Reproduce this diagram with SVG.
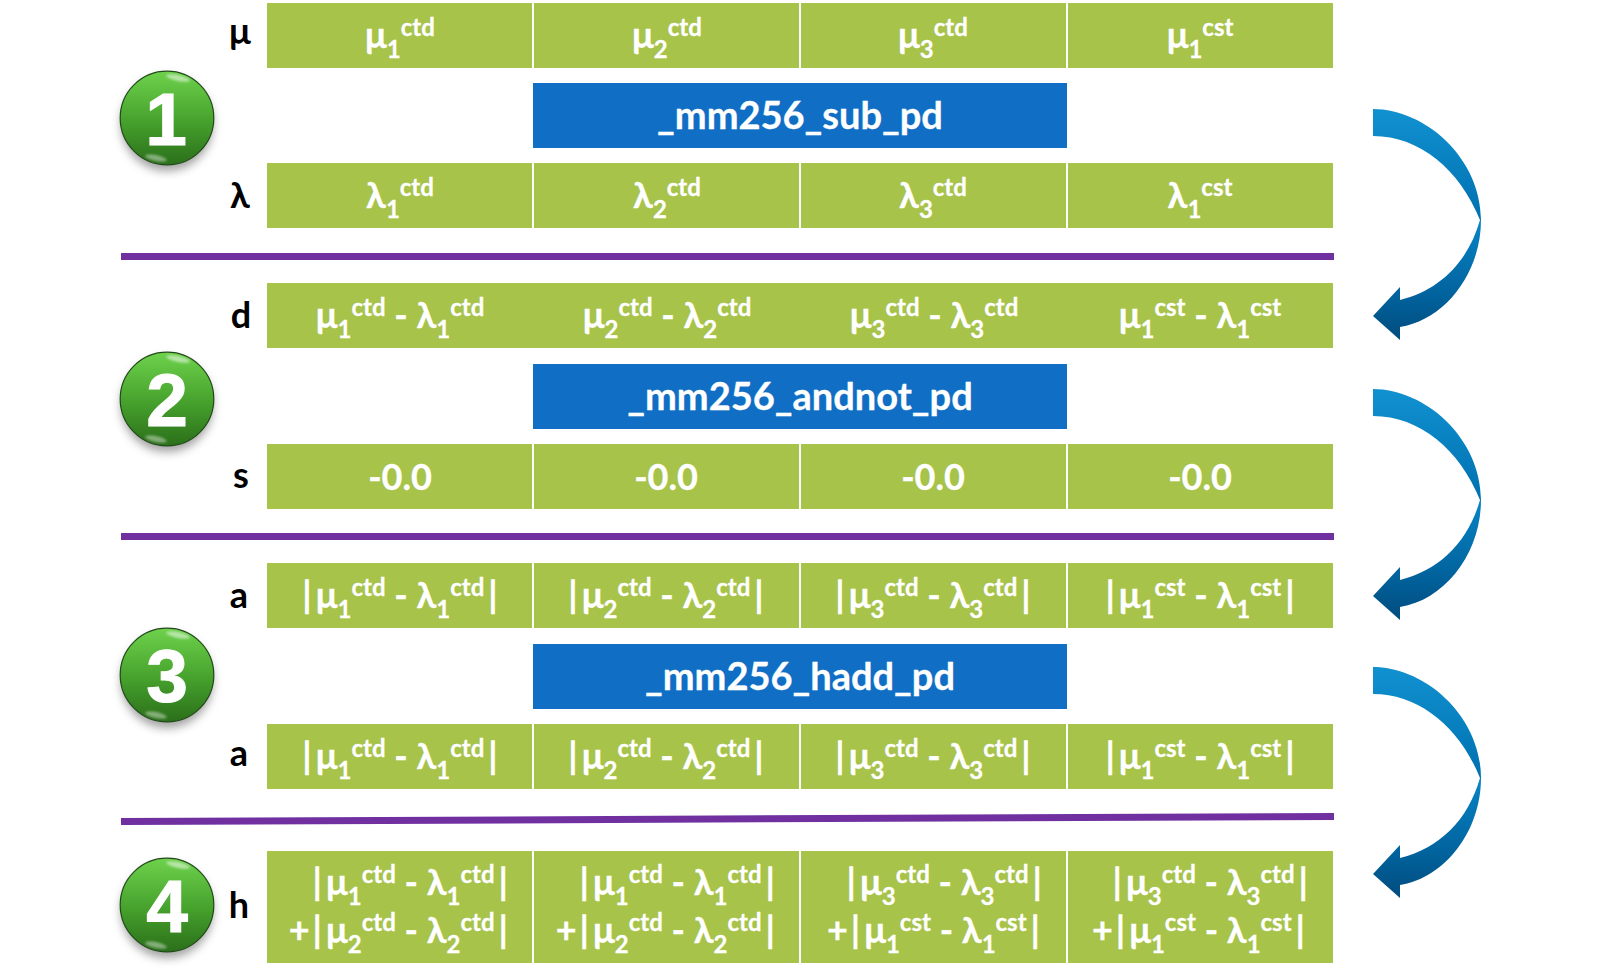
<svg xmlns="http://www.w3.org/2000/svg" width="1600" height="968" viewBox="0 0 1600 968">
<style>
text{font-family:"Lato","Open Sans","Noto Sans",sans-serif;font-weight:700;white-space:pre}
.g{fill:#a7c34a}.b{fill:#106fc5}.p{fill:#7030a0}
.t{fill:#fff;stroke:#fff;stroke-width:.3px;font-size:36px;text-anchor:middle}
.r{fill:#fff;stroke:#fff;stroke-width:.3px;font-size:36px;text-anchor:end}
.f{fill:#fff;stroke:#fff;stroke-width:.3px;font-size:38px;text-anchor:middle}
.s{font-size:24px}
.l{fill:#000;font-size:36px;text-anchor:middle}
.n{fill:#fff;font-family:"Liberation Sans",Arial,sans-serif;stroke:#fff;stroke-width:1px;font-size:75px;text-anchor:middle}
.hl{fill:#fff}
</style>
<defs>
<linearGradient id="ball" x1="0" y1="0" x2="0" y2="1"><stop offset="0" stop-color="#6ed24c"/><stop offset="0.55" stop-color="#45a02c"/><stop offset="1" stop-color="#2b6f1a"/></linearGradient>
<linearGradient id="a1" x1="0" y1="0" x2="0" y2="1"><stop offset="0" stop-color="#1191d0"/><stop offset="1" stop-color="#0070b0"/></linearGradient>
<linearGradient id="a2" x1="0" y1="0" x2="0" y2="1"><stop offset="0" stop-color="#0784c6"/><stop offset="0.6" stop-color="#01649f"/><stop offset="1" stop-color="#014c7e"/></linearGradient>
<filter id="sh" x="-30%" y="-30%" width="160%" height="160%"><feGaussianBlur stdDeviation="5"/></filter>
<filter id="soft" x="-30%" y="-60%" width="160%" height="220%"><feGaussianBlur stdDeviation="1.2"/></filter>
<g id="ballshape">
<ellipse cx="0" cy="6" rx="46" ry="47" fill="#555" opacity="0.55" filter="url(#sh)"/>
<circle r="46.8" fill="url(#ball)" stroke="#1f4a17" stroke-width="1.2"/>
<ellipse cx="11" cy="-40" rx="12" ry="3" class="hl" opacity="0.5" transform="rotate(12 11 -40)" filter="url(#soft)"/>
<ellipse cx="-11" cy="40" rx="11" ry="3" class="hl" opacity="0.4" transform="rotate(12 -11 40)" filter="url(#soft)"/>
</g>
<g id="arrow">
<path fill="url(#a1)" d="M1373 109C1425 109 1481 158 1481 220L1480 220C1460 170 1420 136 1373 136Z"/>
<path fill="url(#a2)" d="M1480 220L1481 220C1481 273 1445 320 1400 327L1400 340L1373 316L1400 287L1400 300C1440 290 1468 262 1480 220Z"/>
</g>
</defs>

<g id="separators">
<rect class="p" x="121" y="253" width="1213" height="7"/>
<rect class="p" x="121" y="533" width="1213" height="7"/>
<path class="p" d="M121 818L1334 813L1334 820L121 825Z"/>
</g>

<g id="connectors">
<use href="#arrow"/>
<use href="#arrow" y="280"/>
<use href="#arrow" y="558"/>
</g>

<g id="step1"><use href="#ballshape" x="167" y="118"/><text class="n" x="166" y="145">1</text></g>
<g id="step2"><use href="#ballshape" x="167" y="399"/><text class="n" x="167" y="426">2</text></g>
<g id="step3"><use href="#ballshape" x="167" y="675"/><text class="n" x="167" y="702">3</text></g>
<g id="step4"><use href="#ballshape" x="167" y="905"/><text class="n" x="167" y="932">4</text></g>

<g id="label-mu"><text class="l" x="240" y="44">μ</text></g>
<g id="label-lambda"><text class="l" x="240" y="208">λ</text></g>
<g id="label-d"><text class="l" x="241" y="328">d</text></g>
<g id="label-s"><text class="l" x="241" y="488">s</text></g>
<g id="label-a1"><text class="l" x="239" y="608">a</text></g>
<g id="label-a2"><text class="l" x="239" y="766">a</text></g>
<g id="label-h"><text class="l" x="239" y="918">h</text></g>

<g id="op-sub"><rect class="b" x="533" y="83" width="534" height="65"/><text class="f" x="800" y="129">_mm256_sub_pd</text></g>
<g id="op-andnot"><rect class="b" x="533" y="364" width="534" height="65"/><text class="f" x="800" y="410">_mm256_andnot_pd</text></g>
<g id="op-hadd"><rect class="b" x="533" y="644" width="534" height="65"/><text class="f" x="800" y="690">_mm256_hadd_pd</text></g>

<g id="mu1"><rect class="g" x="267" y="3" width="265" height="65"/><text class="t" x="400" y="48">μ<tspan class="s" dy="10">1</tspan><tspan class="s" dy="-22">ctd</tspan></text></g>
<g id="mu2"><rect class="g" x="534" y="3" width="265" height="65"/><text class="t" x="667" y="48">μ<tspan class="s" dy="10">2</tspan><tspan class="s" dy="-22">ctd</tspan></text></g>
<g id="mu3"><rect class="g" x="801" y="3" width="265" height="65"/><text class="t" x="933" y="48">μ<tspan class="s" dy="10">3</tspan><tspan class="s" dy="-22">ctd</tspan></text></g>
<g id="mu4"><rect class="g" x="1068" y="3" width="265" height="65"/><text class="t" x="1200" y="48">μ<tspan class="s" dy="10">1</tspan><tspan class="s" dy="-22">cst</tspan></text></g>

<g id="la1"><rect class="g" x="267" y="163" width="265" height="65"/><text class="t" x="400" y="208">λ<tspan class="s" dy="10">1</tspan><tspan class="s" dy="-22">ctd</tspan></text></g>
<g id="la2"><rect class="g" x="534" y="163" width="265" height="65"/><text class="t" x="667" y="208">λ<tspan class="s" dy="10">2</tspan><tspan class="s" dy="-22">ctd</tspan></text></g>
<g id="la3"><rect class="g" x="801" y="163" width="265" height="65"/><text class="t" x="933" y="208">λ<tspan class="s" dy="10">3</tspan><tspan class="s" dy="-22">ctd</tspan></text></g>
<g id="la4"><rect class="g" x="1068" y="163" width="265" height="65"/><text class="t" x="1200" y="208">λ<tspan class="s" dy="10">1</tspan><tspan class="s" dy="-22">cst</tspan></text></g>

<g id="d-row"><rect class="g" x="267" y="283" width="1066" height="65"/>
<g id="d1"><text class="t" x="400" y="328">μ<tspan class="s" dy="10">1</tspan><tspan class="s" dy="-22">ctd</tspan><tspan dy="12"> - λ</tspan><tspan class="s" dy="10">1</tspan><tspan class="s" dy="-22">ctd</tspan></text></g>
<g id="d2"><text class="t" x="667" y="328">μ<tspan class="s" dy="10">2</tspan><tspan class="s" dy="-22">ctd</tspan><tspan dy="12"> - λ</tspan><tspan class="s" dy="10">2</tspan><tspan class="s" dy="-22">ctd</tspan></text></g>
<g id="d3"><text class="t" x="934" y="328">μ<tspan class="s" dy="10">3</tspan><tspan class="s" dy="-22">ctd</tspan><tspan dy="12"> - λ</tspan><tspan class="s" dy="10">3</tspan><tspan class="s" dy="-22">ctd</tspan></text></g>
<g id="d4"><text class="t" x="1200" y="328">μ<tspan class="s" dy="10">1</tspan><tspan class="s" dy="-22">cst</tspan><tspan dy="12"> - λ</tspan><tspan class="s" dy="10">1</tspan><tspan class="s" dy="-22">cst</tspan></text></g>
</g>

<g id="s1"><rect class="g" x="267" y="444" width="265" height="65"/><text class="t" x="400" y="490">-0.0</text></g>
<g id="s2"><rect class="g" x="534" y="444" width="265" height="65"/><text class="t" x="666" y="490">-0.0</text></g>
<g id="s3"><rect class="g" x="801" y="444" width="265" height="65"/><text class="t" x="933" y="490">-0.0</text></g>
<g id="s4"><rect class="g" x="1068" y="444" width="265" height="65"/><text class="t" x="1200" y="490">-0.0</text></g>

<g id="a1-1"><rect class="g" x="267" y="563" width="265" height="65"/><text class="t" x="400" y="608">|<tspan dx="4">μ</tspan><tspan class="s" dy="10">1</tspan><tspan class="s" dy="-22">ctd</tspan><tspan dy="12"> - λ</tspan><tspan class="s" dy="10">1</tspan><tspan class="s" dy="-22">ctd</tspan><tspan dy="12" dx="4">|</tspan></text></g>
<g id="a1-2"><rect class="g" x="534" y="563" width="265" height="65"/><text class="t" x="666" y="608">|<tspan dx="4">μ</tspan><tspan class="s" dy="10">2</tspan><tspan class="s" dy="-22">ctd</tspan><tspan dy="12"> - λ</tspan><tspan class="s" dy="10">2</tspan><tspan class="s" dy="-22">ctd</tspan><tspan dy="12" dx="4">|</tspan></text></g>
<g id="a1-3"><rect class="g" x="801" y="563" width="265" height="65"/><text class="t" x="933" y="608">|<tspan dx="4">μ</tspan><tspan class="s" dy="10">3</tspan><tspan class="s" dy="-22">ctd</tspan><tspan dy="12"> - λ</tspan><tspan class="s" dy="10">3</tspan><tspan class="s" dy="-22">ctd</tspan><tspan dy="12" dx="4">|</tspan></text></g>
<g id="a1-4"><rect class="g" x="1068" y="563" width="265" height="65"/><text class="t" x="1200" y="608">|<tspan dx="4">μ</tspan><tspan class="s" dy="10">1</tspan><tspan class="s" dy="-22">cst</tspan><tspan dy="12"> - λ</tspan><tspan class="s" dy="10">1</tspan><tspan class="s" dy="-22">cst</tspan><tspan dy="12" dx="4">|</tspan></text></g>

<g id="a2-1"><rect class="g" x="267" y="724" width="265" height="65"/><text class="t" x="400" y="769">|<tspan dx="4">μ</tspan><tspan class="s" dy="10">1</tspan><tspan class="s" dy="-22">ctd</tspan><tspan dy="12"> - λ</tspan><tspan class="s" dy="10">1</tspan><tspan class="s" dy="-22">ctd</tspan><tspan dy="12" dx="4">|</tspan></text></g>
<g id="a2-2"><rect class="g" x="534" y="724" width="265" height="65"/><text class="t" x="666" y="769">|<tspan dx="4">μ</tspan><tspan class="s" dy="10">2</tspan><tspan class="s" dy="-22">ctd</tspan><tspan dy="12"> - λ</tspan><tspan class="s" dy="10">2</tspan><tspan class="s" dy="-22">ctd</tspan><tspan dy="12" dx="4">|</tspan></text></g>
<g id="a2-3"><rect class="g" x="801" y="724" width="265" height="65"/><text class="t" x="933" y="769">|<tspan dx="4">μ</tspan><tspan class="s" dy="10">3</tspan><tspan class="s" dy="-22">ctd</tspan><tspan dy="12"> - λ</tspan><tspan class="s" dy="10">3</tspan><tspan class="s" dy="-22">ctd</tspan><tspan dy="12" dx="4">|</tspan></text></g>
<g id="a2-4"><rect class="g" x="1068" y="724" width="265" height="65"/><text class="t" x="1200" y="769">|<tspan dx="4">μ</tspan><tspan class="s" dy="10">1</tspan><tspan class="s" dy="-22">cst</tspan><tspan dy="12"> - λ</tspan><tspan class="s" dy="10">1</tspan><tspan class="s" dy="-22">cst</tspan><tspan dy="12" dx="4">|</tspan></text></g>

<g id="h1"><rect class="g" x="267" y="851" width="265" height="112"/>
<text class="r" x="508" y="895">|<tspan dx="4">μ</tspan><tspan class="s" dy="10">1</tspan><tspan class="s" dy="-22">ctd</tspan><tspan dy="12"> - λ</tspan><tspan class="s" dy="10">1</tspan><tspan class="s" dy="-22">ctd</tspan><tspan dy="12" dx="4">|</tspan></text>
<text class="r" x="508" y="943">+<tspan dx="3">|</tspan><tspan dx="4">μ</tspan><tspan class="s" dy="10">2</tspan><tspan class="s" dy="-22">ctd</tspan><tspan dy="12"> - λ</tspan><tspan class="s" dy="10">2</tspan><tspan class="s" dy="-22">ctd</tspan><tspan dy="12" dx="4">|</tspan></text></g>
<g id="h2"><rect class="g" x="534" y="851" width="265" height="112"/>
<text class="r" x="775" y="895">|<tspan dx="4">μ</tspan><tspan class="s" dy="10">1</tspan><tspan class="s" dy="-22">ctd</tspan><tspan dy="12"> - λ</tspan><tspan class="s" dy="10">1</tspan><tspan class="s" dy="-22">ctd</tspan><tspan dy="12" dx="4">|</tspan></text>
<text class="r" x="775" y="943">+<tspan dx="3">|</tspan><tspan dx="4">μ</tspan><tspan class="s" dy="10">2</tspan><tspan class="s" dy="-22">ctd</tspan><tspan dy="12"> - λ</tspan><tspan class="s" dy="10">2</tspan><tspan class="s" dy="-22">ctd</tspan><tspan dy="12" dx="4">|</tspan></text></g>
<g id="h3"><rect class="g" x="801" y="851" width="265" height="112"/>
<text class="r" x="1042" y="895">|<tspan dx="4">μ</tspan><tspan class="s" dy="10">3</tspan><tspan class="s" dy="-22">ctd</tspan><tspan dy="12"> - λ</tspan><tspan class="s" dy="10">3</tspan><tspan class="s" dy="-22">ctd</tspan><tspan dy="12" dx="4">|</tspan></text>
<text class="r" x="1040" y="943">+<tspan dx="3">|</tspan><tspan dx="4">μ</tspan><tspan class="s" dy="10">1</tspan><tspan class="s" dy="-22">cst</tspan><tspan dy="12"> - λ</tspan><tspan class="s" dy="10">1</tspan><tspan class="s" dy="-22">cst</tspan><tspan dy="12" dx="4">|</tspan></text></g>
<g id="h4"><rect class="g" x="1068" y="851" width="265" height="112"/>
<text class="r" x="1308" y="895">|<tspan dx="4">μ</tspan><tspan class="s" dy="10">3</tspan><tspan class="s" dy="-22">ctd</tspan><tspan dy="12"> - λ</tspan><tspan class="s" dy="10">3</tspan><tspan class="s" dy="-22">ctd</tspan><tspan dy="12" dx="4">|</tspan></text>
<text class="r" x="1305" y="943">+<tspan dx="3">|</tspan><tspan dx="4">μ</tspan><tspan class="s" dy="10">1</tspan><tspan class="s" dy="-22">cst</tspan><tspan dy="12"> - λ</tspan><tspan class="s" dy="10">1</tspan><tspan class="s" dy="-22">cst</tspan><tspan dy="12" dx="4">|</tspan></text></g>
</svg>
